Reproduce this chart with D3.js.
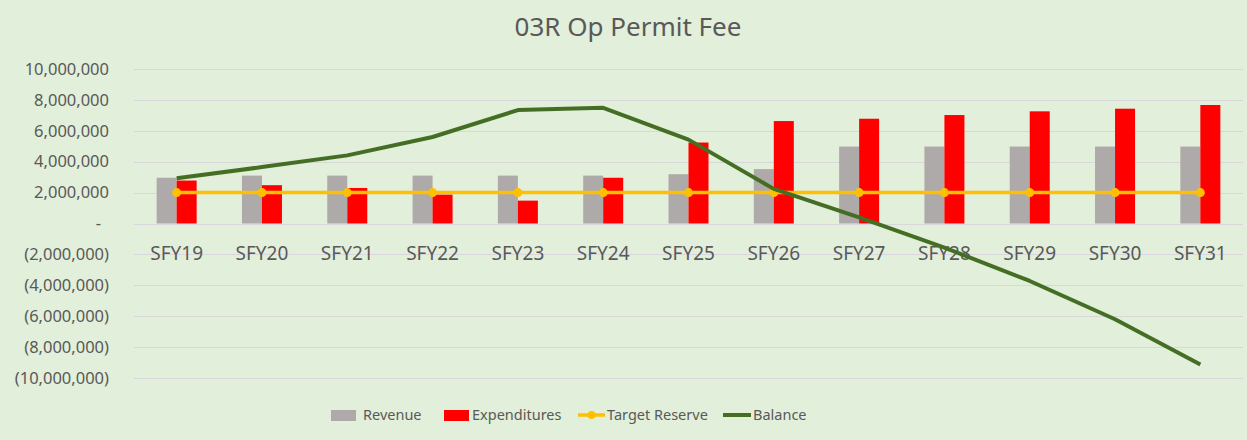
<!DOCTYPE html>
<html>
<head>
<meta charset="utf-8">
<script src="https://cdn.jsdelivr.net/npm/d3@7"></script>
<style>
  body { margin: 0; background: #e2efda; }
  svg text { font-family: "Noto Sans", "Open Sans", sans-serif; fill: #595959; }
</style>
</head>
<body>
<svg id="main_svg" width="1247" height="440"></svg>
<script>
// chart data
const years = ['SFY19', 'SFY20', 'SFY21', 'SFY22', 'SFY23', 'SFY24', 'SFY25',
  'SFY26', 'SFY27', 'SFY28', 'SFY29', 'SFY30', 'SFY31'];
const revenue = [2960000, 3100000, 3100000, 3100000, 3100000, 3100000, 3190000,
  3520000, 4980000, 4980000, 4980000, 4980000, 4980000];
const expenditures = [2780000, 2480000, 2300000, 1870000, 1480000, 2960000, 5240000,
  6630000, 6780000, 7020000, 7260000, 7430000, 7670000];
const targetReserve = [2000000, 2000000, 2000000, 2000000, 2000000, 2000000, 2000000,
  2000000, 2000000, 2000000, 2000000, 2000000, 2000000];
const balance = [2930000, 3650000, 4410000, 5600000, 7340000, 7490000, 5430000,
  2240000, 390000, -1560000, -3720000, -6200000, -9130000];
const yTicks = [10000000, 8000000, 6000000, 4000000, 2000000, 0,
  -2000000, -4000000, -6000000, -8000000, -10000000];

const svg = d3.select('#main_svg');
const plot = { left: 134, right: 1243, top: 69, bottom: 378 };

svg.append('rect')
  .attr('width', 1247).attr('height', 440)
  .attr('fill', '#e2efda');

// scales
const x = d3.scaleBand().domain(years).range([plot.left, plot.right]);
const y = d3.scaleLinear().domain([-10000000, 10000000]).range([plot.bottom, plot.top]);
const barW = 20;

// number format like excel accounting
const fmt = d3.format(',');
function tickText(v) {
  if (v === 0) return '-';
  if (v < 0) return '(' + fmt(-v) + ')';
  return fmt(v);
}

// gridlines
svg.append('g')
  .selectAll('line')
  .data(yTicks)
  .join('line')
  .attr('x1', plot.left).attr('x2', plot.right)
  .attr('y1', d => Math.round(y(d)) + 0.5)
  .attr('y2', d => Math.round(y(d)) + 0.5)
  .attr('stroke', '#d9d6dc')
  .attr('stroke-width', 1);

// y axis labels
svg.append('g')
  .selectAll('text')
  .data(yTicks)
  .join('text')
  .attr('x', d => d === 0 ? 101 : 109)
  .attr('y', d => y(d))
  .attr('dy', '0.35em')
  .attr('text-anchor', 'end')
  .style('font-size', '16.5px')
  .text(tickText);

// title
svg.append('text')
  .attr('x', 628)
  .attr('y', 36)
  .attr('text-anchor', 'middle')
  .style('font-size', '26px')
  .text('03R Op Permit Fee');

// bars
const cx = d => x(d) + x.bandwidth() / 2;
svg.append('g')
  .selectAll('rect')
  .data(years)
  .join('rect')
  .attr('x', d => cx(d) - barW)
  .attr('width', barW)
  .attr('y', (d, i) => y(revenue[i]))
  .attr('height', (d, i) => y(0) - y(revenue[i]))
  .attr('fill', '#aeaaaa');

svg.append('g')
  .selectAll('rect')
  .data(years)
  .join('rect')
  .attr('x', d => cx(d))
  .attr('width', barW)
  .attr('y', (d, i) => y(expenditures[i]))
  .attr('height', (d, i) => y(0) - y(expenditures[i]))
  .attr('fill', '#ff0000');

// category labels (sit just under the zero line)
svg.append('g')
  .selectAll('text')
  .data(years)
  .join('text')
  .attr('x', d => cx(d))
  .attr('y', 260)
  .attr('text-anchor', 'middle')
  .style('font-size', '19px')
  .text(d => d);

// target reserve line with markers
const line = d3.line().x(d => cx(d[0])).y(d => y(d[1]));
svg.append('path')
  .datum(years.map((d, i) => [d, targetReserve[i]]))
  .attr('d', line)
  .attr('fill', 'none')
  .attr('stroke', '#ffc000')
  .attr('stroke-width', 3.5);

svg.append('g')
  .selectAll('circle')
  .data(years)
  .join('circle')
  .attr('cx', d => cx(d))
  .attr('cy', (d, i) => y(targetReserve[i]))
  .attr('r', 4.5)
  .attr('fill', '#ffc000');

// balance line
svg.append('path')
  .datum(years.map((d, i) => [d, balance[i]]))
  .attr('d', line)
  .attr('fill', 'none')
  .attr('stroke', '#456e25')
  .attr('stroke-width', 4)
  .attr('stroke-linejoin', 'round');

// legend
const legend = svg.append('g').style('font-size', '14.5px');
legend.append('rect').attr('x', 331).attr('y', 410).attr('width', 25).attr('height', 11).attr('fill', '#aeaaaa');
legend.append('text').attr('x', 363).attr('y', 420).text('Revenue');
legend.append('rect').attr('x', 444).attr('y', 410).attr('width', 25).attr('height', 11).attr('fill', '#ff0000');
legend.append('text').attr('x', 472).attr('y', 420).text('Expenditures');
legend.append('line').attr('x1', 578).attr('x2', 605).attr('y1', 415).attr('y2', 415)
  .attr('stroke', '#ffc000').attr('stroke-width', 3.5);
legend.append('circle').attr('cx', 591.5).attr('cy', 415).attr('r', 4).attr('fill', '#ffc000');
legend.append('text').attr('x', 607).attr('y', 420).text('Target Reserve');
legend.append('line').attr('x1', 723).attr('x2', 751).attr('y1', 415).attr('y2', 415)
  .attr('stroke', '#456e25').attr('stroke-width', 4);
legend.append('text').attr('x', 753).attr('y', 420).text('Balance');
</script>
</body>
</html>
